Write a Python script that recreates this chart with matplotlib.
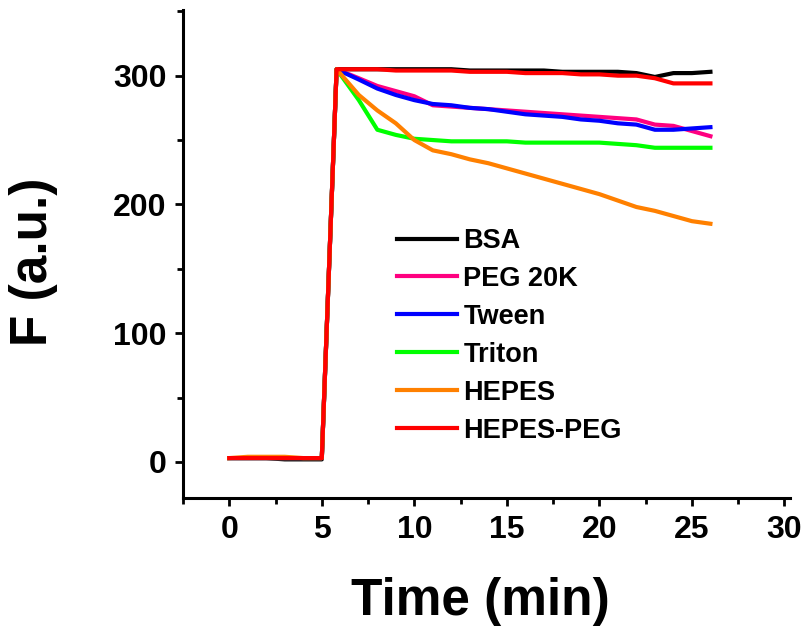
import matplotlib
matplotlib.use('Agg')
import matplotlib.pyplot as plt
from matplotlib.ticker import MultipleLocator

plt.rcParams['font.family'] = ['Liberation Sans', 'DejaVu Sans']
plt.rcParams['font.weight'] = 'bold'

time = [0, 1, 2, 3, 4, 5, 5.8, 7, 8, 9, 10, 11, 12, 13, 14, 15, 16, 17,
        18, 19, 20, 21, 22, 23, 24, 25, 26]

bsa = [3, 3, 3, 2, 2, 2, 305, 305, 305, 305, 305, 305, 305, 304, 304, 304,
       304, 304, 303, 303, 303, 303, 302, 299, 302, 302, 303]
peg = [3, 3, 3, 3, 3, 3, 305, 298, 292, 288, 284, 277, 276, 275, 274, 273,
       272, 271, 270, 269, 268, 267, 266, 262, 261, 257, 253]
tween = [3, 3, 3, 3, 3, 3, 305, 297, 290, 285, 281, 278, 277, 275, 274, 272,
         270, 269, 268, 266, 265, 263, 262, 258, 258, 259, 260]
triton = [3, 3, 3, 3, 3, 3, 305, 281, 258, 254, 251, 250, 249, 249, 249, 249,
          248, 248, 248, 248, 248, 247, 246, 244, 244, 244, 244]
hepes = [3, 4, 4, 4, 3, 3, 305, 285, 273, 263, 250, 242, 239, 235, 232, 228,
         224, 220, 216, 212, 208, 203, 198, 195, 191, 187, 185]
hepes_peg = [3, 3, 3, 3, 3, 3, 305, 305, 305, 304, 304, 304, 304, 303, 303,
             303, 302, 302, 302, 301, 301, 300, 300, 298, 294, 294, 294]

names = ['BSA', 'PEG 20K', 'Tween', 'Triton', 'HEPES', 'HEPES-PEG']
series = [bsa, peg, tween, triton, hepes, hepes_peg]
colors = ['#000000', '#FF0080', '#0000FF', '#00FF00', '#FF8000', '#FF0000']

fig = plt.figure(figsize=(8.08, 6.31), dpi=100)
ax = fig.add_axes([183/808, 1 - 498/631, 607/808, 488/631])

for y, name, c in zip(series, names, colors):
    ax.plot(time, y, color=c, lw=3, label=name)

ax.set_xlim(-2.5, 30.3)
ax.set_ylim(-28, 351)
ax.xaxis.set_major_locator(MultipleLocator(5))
ax.xaxis.set_minor_locator(MultipleLocator(2.5))
ax.yaxis.set_major_locator(MultipleLocator(100))
ax.yaxis.set_minor_locator(MultipleLocator(50))
ax.set_yticks([0, 100, 200, 300])

for s in ['top', 'right']:
    ax.spines[s].set_visible(False)
for s in ['left', 'bottom']:
    ax.spines[s].set_linewidth(2.2)

ax.tick_params(which='major', direction='out', length=6, width=2, labelsize=23, pad=6)
ax.tick_params(which='minor', direction='out', length=4, width=2)
for lab in ax.get_xticklabels() + ax.get_yticklabels():
    lab.set_fontweight('bold')

ax.set_xlabel('Time (min)', fontsize=37, fontweight='bold')
ax.set_ylabel('F (a.u.)', fontsize=37, fontweight='bold')
ax.xaxis.label.set_va('center')
ax.yaxis.label.set_va('center')
ax.xaxis.set_label_coords((480 - 183) / 607, (498 - 602) / 488)
ax.yaxis.set_label_coords((34 - 183) / 607, (498 - 262) / 488)

leg = ax.legend(loc='upper left', bbox_to_anchor=(214/607, (498 - 228)/488),
                frameon=False, fontsize=19.5, handlelength=2.2, handletextpad=0.25,
                labelspacing=0.44, borderpad=0, borderaxespad=0)
for t in leg.get_texts():
    t.set_fontweight('bold')

fig.savefig('out.png', dpi=100)
